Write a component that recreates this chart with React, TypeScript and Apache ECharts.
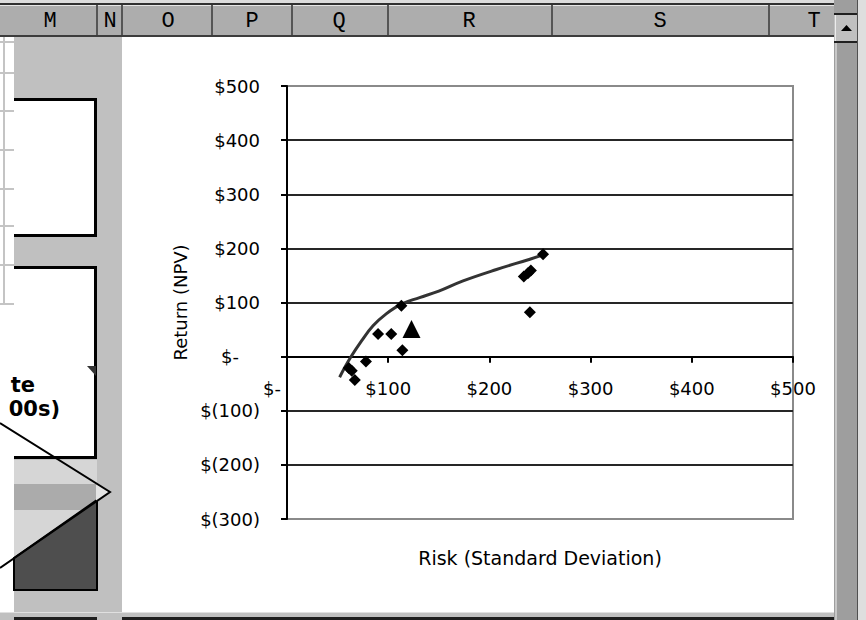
import React, { useEffect, useRef } from "react";
import * as echarts from "echarts";

// Portfolio projects: risk (standard deviation) vs. return (NPV)
const projectRisk = [253, 234, 238, 241, 240, 113, 90, 103, 114, 78, 61, 64, 67];
const projectReturn = [189, 148, 154, 159, 82, 94, 42, 42, 12, -9, -21, -26, -43];

// Highlighted portfolio
const portfolioRisk = [123];
const portfolioReturn = [51];

// Efficient-frontier trend, sampled along the fitted curve
const trendRisk = [52, 62, 74, 85, 98, 113, 131, 150, 174, 207, 240, 253];
const trendReturn = [-38, -4, 30, 57, 79, 97, 109, 121, 140, 161, 180, 188];

// Axis ticks
const riskTicks = [0, 100, 200, 300, 400, 500];
const returnTicks = [-300, -200, -100, 0, 100, 200, 300, 400, 500];

// Spreadsheet column headers and their centres
const columnLetters = ["M", "N", "O", "P", "Q", "R", "S", "T"];
const columnCentres = [50, 110, 168, 252, 339, 469, 660, 814];
const columnDividers = [97, 122, 212, 292, 388, 552, 769];
const sheetRows = [42, 73, 111, 150, 189, 226, 265, 304];

const FONT = "DejaVu Sans";

function money(v: number): string {
  if (v === 0) return "$-";
  if (v < 0) return "$(" + Math.abs(v) + ")";
  return "$" + v;
}

export default function App() {
  const ref = useRef<HTMLDivElement | null>(null);

  useEffect(() => {
    if (!ref.current) return;
    const chart = echarts.init(ref.current, undefined, { renderer: "svg" });

    const zip = (a: number[], b: number[]) => a.map((x, i) => [x, b[i]]);

    const line = (x1: number, y1: number, x2: number, y2: number, stroke: string, lineWidth: number) => ({
      type: "line",
      silent: true,
      shape: { x1, y1, x2, y2 },
      style: { stroke, lineWidth },
    });
    const rect = (x: number, y: number, width: number, height: number, fill: string) => ({
      type: "rect",
      silent: true,
      shape: { x, y, width, height },
      style: { fill },
    });

    const graphics: any[] = [
      // top frame and column header band
      rect(0, 0, 866, 4, "#dcdcdc"),
      rect(0, 3, 836, 2, "#303030"),
      rect(0, 5, 836, 30, "#adadad"),
      rect(0, 5, 836, 1, "#e6e6e6"),
      rect(0, 35, 836, 2, "#3c3c3c"),
      ...columnDividers.map((x) => line(x, 5, x, 35, "#555555", 2)),
      ...columnLetters.map((t, i) => ({
        type: "text",
        silent: true,
        x: columnCentres[i],
        y: 21,
        style: {
          text: t,
          font: '22px "Liberation Mono"',
          fill: "#000",
          textAlign: "center",
          textVerticalAlign: "middle",
        },
      })),
      // worksheet strip on the left with cell gridlines
      rect(0, 37, 14, 583, "#ffffff"),
      ...sheetRows.map((y) => line(0, y, 14, y, "#c4c4c4", 2)),
      line(4, 37, 4, 304, "#c4c4c4", 2),
      // grey pane beside the chart
      rect(14, 37, 108, 583, "#c0c0c0"),
      // first flowchart box
      rect(14, 98, 83, 139, "#ffffff"),
      line(14, 99.5, 97, 99.5, "#000", 3),
      line(95.5, 98, 95.5, 237, "#000", 3),
      line(14, 235.5, 97, 235.5, "#000", 3),
      // second flowchart box
      rect(14, 266, 83, 193, "#ffffff"),
      line(14, 267.5, 97, 267.5, "#000", 3),
      line(95.5, 266, 95.5, 459, "#000", 3),
      line(14, 457.5, 97, 457.5, "#000", 3),
      {
        type: "polygon",
        silent: true,
        shape: { points: [[87, 366], [96, 366], [96, 376]] },
        style: { fill: "#333" },
      },
      {
        type: "text",
        silent: true,
        x: 35,
        y: 385,
        style: { text: "te", font: 'bold 21px "DejaVu Sans"', fill: "#000", textAlign: "right", textVerticalAlign: "middle" },
      },
      {
        type: "text",
        silent: true,
        x: 60,
        y: 409,
        style: { text: "00s)", font: 'bold 21px "DejaVu Sans"', fill: "#000", textAlign: "right", textVerticalAlign: "middle" },
      },
      // patterned block beneath, with hatched lower part
      rect(14, 460, 83, 130, "#d6d6d6"),
      rect(14, 484, 83, 26, "#ababab"),
      {
        type: "polygon",
        silent: true,
        shape: { points: [[97, 500], [97, 590], [14, 590], [14, 558]] },
        style: { fill: "#4e4e4e", stroke: "#000", lineWidth: 2 },
      },
      {
        type: "polygon",
        silent: true,
        shape: { points: [[96, 484], [110, 492], [96, 501]] },
        style: { fill: "#e4e4e4" },
      },
      {
        type: "polyline",
        silent: true,
        shape: { points: [[0, 423], [110, 492], [0, 568]] },
        style: { stroke: "#000", lineWidth: 2, fill: null },
      },
      // bottom frame
      rect(0, 612, 834, 8, "#c0c0c0"),
      rect(0, 612, 834, 1, "#e0e0e0"),
      rect(14, 617, 83, 3, "#1e1e1e"),
      rect(122, 617, 712, 3, "#1e1e1e"),
      // vertical scrollbar
      rect(834, 0, 24, 620, "#9e9e9e"),
      rect(835, 37, 2, 583, "#c8c8c8"),
      rect(834, 14, 24, 28, "#c0c0c0"),
      rect(834, 13, 24, 2, "#202020"),
      rect(834, 41, 24, 2, "#202020"),
      rect(835, 15, 1, 26, "#ececec"),
      {
        type: "polygon",
        silent: true,
        shape: { points: [[841, 31], [852, 31], [846.5, 25]] },
        style: { fill: "#000" },
      },
      rect(858, 0, 8, 620, "#dedede"),
      rect(857, 0, 1, 620, "#505050"),
    ];

    const labelText = { color: "#000", fontSize: 18, fontFamily: FONT };

    chart.setOption({
      animation: false,
      backgroundColor: "#ffffff",
      textStyle: { fontFamily: FONT },
      graphic: graphics,
      grid: {
        left: 287,
        top: 86,
        width: 506,
        height: 433,
        show: true,
        borderColor: "#8a8a8a",
        borderWidth: 2,
        backgroundColor: "transparent",
        containLabel: false,
        outerBoundsMode: "none",
      },
      xAxis: {
        type: "value",
        min: riskTicks[0],
        max: riskTicks[riskTicks.length - 1],
        interval: 100,
        axisLine: { show: true, onZero: true, lineStyle: { color: "#000", width: 2 } },
        axisTick: { show: true, length: 6, lineStyle: { color: "#000", width: 2 } },
        splitLine: { show: false },
        axisLabel: {
          ...labelText,
          margin: -140,
          hideOverlap: false,
          formatter: (v: number) => (v === 0 ? "{z|$-}" : money(v)),
          rich: { z: { ...labelText, padding: [0, 30, 0, 0] } },
        },
        name: "Risk (Standard Deviation)",
        nameLocation: "middle",
        nameGap: 29,
        nameMoveOverlap: false,
        nameTextStyle: { color: "#000", fontSize: 19, fontFamily: FONT },
      },
      yAxis: {
        type: "value",
        min: returnTicks[0],
        max: returnTicks[returnTicks.length - 1],
        interval: 100,
        axisLine: { show: true, lineStyle: { color: "#000", width: 2 } },
        axisTick: { show: true, length: 6, lineStyle: { color: "#000", width: 2 } },
        splitLine: {
          show: true,
          showMinLine: false,
          showMaxLine: false,
          lineStyle: { color: "#262626", width: 2 },
        },
        axisLabel: {
          ...labelText,
          margin: 27,
          formatter: (v: number) => (v === 0 ? "{z|$-}" : money(v)),
          rich: { z: { ...labelText, padding: [0, 21, 0, 0] } },
        },
        name: "Return (NPV)",
        nameLocation: "middle",
        nameGap: 98,
        nameMoveOverlap: false,
        nameTextStyle: { color: "#000", fontSize: 18, fontFamily: FONT },
      },
      series: [
        {
          name: "Trend",
          type: "line",
          data: zip(trendRisk, trendReturn),
          smooth: 0.4,
          showSymbol: false,
          lineStyle: { color: "#333333", width: 3 },
          z: 2,
        },
        {
          name: "Projects",
          type: "scatter",
          symbol: "diamond",
          symbolSize: 12,
          data: zip(projectRisk, projectReturn),
          itemStyle: { color: "#000", opacity: 1 },
          z: 3,
        },
        {
          name: "Portfolio",
          type: "scatter",
          symbol: "triangle",
          symbolSize: 18,
          data: zip(portfolioRisk, portfolioReturn),
          itemStyle: { color: "#000", opacity: 1 },
          z: 3,
        },
      ],
    });

    return () => chart.dispose();
  }, []);

  return (
    <div
      ref={ref}
      style={{ position: "absolute", left: 0, top: 0, width: 866, height: 620 }}
    />
  );
}
